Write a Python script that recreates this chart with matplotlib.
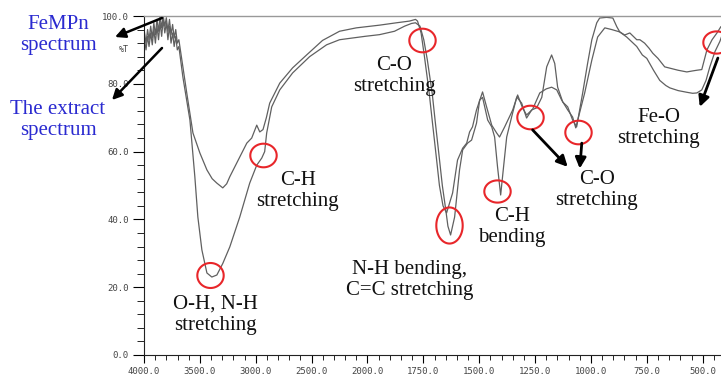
import numpy as np
import matplotlib
matplotlib.use("Agg")
import matplotlib.pyplot as plt
from matplotlib.path import Path

# FTIR spectra: wavenumber (cm-1) and transmittance (%T)
femppn_wn = [3995, 3982, 3968, 3955, 3940, 3926, 3912, 3898, 3884, 3870, 3856,
             3842, 3828, 3814, 3800, 3786, 3772, 3758, 3744, 3730, 3716, 3702,
             3688, 3661, 3616, 3562, 3500, 3437, 3390, 3348, 3295, 3260, 3232,
             3143, 3080, 3036, 2991, 2964, 2935, 2905, 2875, 2785, 2670, 2545,
             2402, 2250, 2100, 1946, 1870, 1812, 1785, 1776, 1760, 1745, 1725,
             1710, 1693, 1678, 1662, 1646, 1619, 1597, 1574, 1556, 1543, 1530,
             1512, 1485, 1467, 1444, 1422, 1409, 1386, 1350, 1328, 1306, 1288,
             1261, 1229, 1200, 1176, 1153, 1131, 1104, 1082, 1068, 1028, 996,
             970, 938, 907, 871, 840, 795, 770, 750, 720, 692, 665, 647, 610,
             571, 545, 526, 504, 485, 468, 445, 423, 415]
femppn_t = [95, 92, 96, 93, 97, 93.5, 98, 94.5, 99, 95.5, 100,
            96.5, 100, 97, 99.5, 95.5, 99, 94.5, 97.5, 93.5, 96, 92,
            93, 87, 77, 65.5, 59.6, 54.6, 52, 50.7, 49.3, 50.5, 52.6,
            58.4, 62.5, 64, 67.8, 65.8, 66.5, 70, 74.3, 80.2, 84.7, 88.5,
            92.8, 95.5, 96.5, 97.3, 98, 98.5, 99, 98.5, 95, 88, 78,
            69, 59, 50, 44, 41.9, 47.8, 57.5, 61, 62.5, 65.8, 67.3,
            72.3, 77.6, 73.2, 67.8, 65.5, 64.3, 67.3, 72.3, 76.7, 72.9, 70.8,
            72.5, 77.3, 78.5, 79, 78.2, 75.2, 72.3, 70.2, 67, 77.3, 87,
            93.8, 96.5, 96, 95.3, 93.8, 91, 88.5, 87.5, 84, 81, 79.5, 78.8, 78,
            77.5, 77.2, 77.3, 78.2, 81, 85, 89.5, 92.5, 94]

extract_wn = [3995, 3982, 3968, 3955, 3940, 3926, 3912, 3898, 3884, 3870, 3856,
              3842, 3828, 3814, 3800, 3786, 3772, 3758, 3744, 3730, 3716, 3702,
              3688, 3652, 3589, 3545, 3518, 3482, 3437, 3393, 3348, 3295, 3232,
              3143, 3054, 2991, 2946, 2920, 2902, 2857, 2785, 2670, 2518, 2366,
              2250, 2022, 1946, 1879, 1834, 1803, 1785, 1765, 1748, 1732, 1710,
              1697, 1680, 1665, 1650, 1640, 1628, 1610, 1588, 1574, 1552, 1534,
              1512, 1498, 1485, 1462, 1444, 1431, 1418, 1404, 1391, 1377, 1355,
              1332, 1310, 1288, 1265, 1243, 1220, 1198, 1176, 1162, 1149, 1126,
              1104, 1082, 1064, 1037, 1015, 996, 974, 961, 930, 902, 884, 871,
              849, 826, 795, 781, 760, 740, 723, 700, 670, 640, 610, 571, 545,
              526, 504, 481, 458, 436, 419]
extract_t = [93, 90, 94, 91, 95, 91.5, 96, 92, 97, 93, 98,
             94, 99, 95, 98, 93, 97, 92, 95, 91, 94, 90,
             91, 82, 69.3, 52.6, 40.7, 31, 24.2, 23, 23.6, 27, 31.9,
             40.7, 50.7, 56, 58.1, 60, 65.5, 73.2, 78.2, 83.2, 88, 91.5,
             93, 94, 94.5, 95.5, 97, 97.8, 98, 97, 93, 87, 77,
             69, 59, 50, 43, 38, 35.4, 40.7, 54.6, 60.5, 62.5, 63.4,
             68.4, 75.2, 76, 69.3, 67.3, 64.3, 55.5, 47.2, 55.5, 64.3, 70.2,
             76.1, 74.3, 69.9, 72.3, 72.9, 76, 85, 88.5, 86, 79, 74.6,
             73.2, 69.3, 67.3, 77.3, 86, 93, 98, 99.4, 99.6, 99.4, 96.8, 95.3,
             94.4, 95, 93, 93, 92, 90.5, 89, 87.5, 85, 84.5, 84, 83.5, 83.8,
             84, 84.2, 90, 93, 95, 96.8]

major_wn = [4000, 3500, 3000, 2500, 2000, 1750, 1500, 1250, 1000, 750, 500]
major_t = [0, 20, 40, 60, 80, 100]

# red circles: (wavenumber, %T) centre, size in points (w, h)
circle_pos = [(3411, 23.6), (2937, 59.0), (1754, 92.9), (1633, 38.3),
              (1422, 48.4), (1274, 70.2), (1059, 65.8), (441, 92.3)]
circle_size = [(19, 18), (19, 17), (19, 17), (19, 26),
               (19, 16), (19, 17), (19, 17), (19, 16)]

labels = ["O-H, N-H\nstretching", "C-H\nstretching", "C-O\nstretching",
          "N-H bending,\nC=C stretching", "C-H\nbending", "C-O\nstretching",
          "Fe-O\nstretching"]
label_pos = [(3357, 11.8), (2625, 48.4), (1879, 82.3), (1812, 22.1),
             (1355, 37.8), (974, 48.7), (696, 67.0)]

# arrows from circles to the text, (tail, head) in data coords
arrows = [((1261, 66.4), (1104, 55.5)),
          ((1041, 62.5), (1050, 55.0)),
          ((432, 87.6), (513, 73.2))]


def fwd(wn):
    wn = np.asarray(wn, dtype=float)
    return np.where(wn <= 2000, wn / 250.0, 8 + (wn - 2000) / 500.0)


def inv(u):
    u = np.asarray(u, dtype=float)
    return np.where(u <= 8, u * 250.0, 2000 + (u - 8) * 500.0)


def ellipse_marker(w, h):
    th = np.linspace(0, 2 * np.pi, 73)
    verts = np.column_stack([w * np.cos(th), h * np.sin(th)])
    return Path(verts, closed=True)


serif = "Liberation Serif"
mono = "DejaVu Sans Mono"

fig = plt.figure(figsize=(7.21, 3.78), dpi=100)
ax = fig.add_axes([144 / 721, 1 - 355 / 378, 1 - 144 / 721, (355 - 16) / 378])
ax.set_xscale("function", functions=(fwd, inv))

ax.plot(femppn_wn, femppn_t, color="#606060", lw=0.9)
ax.plot(extract_wn, extract_t, color="#606060", lw=0.9)

ax.set_xlim(4000, 418)
ax.set_ylim(0, 100)

ax.set_xticks(major_wn)
ax.set_xticklabels(["%.1f" % v for v in major_wn])
minor_x = [v for v in list(range(450, 2000, 50)) + list(range(2000, 4000, 100))
           if v not in major_wn]
ax.set_xticks(minor_x, minor=True)
ax.set_yticks(major_t)
ax.set_yticklabels(["%.1f" % v for v in major_t])
ax.set_yticks(np.arange(0, 101, 4), minor=True)

for lab in ax.get_xticklabels() + ax.get_yticklabels():
    lab.set_fontfamily(mono)
    lab.set_fontsize(6.5)
    lab.set_color("#444444")
ax.tick_params(axis="x", which="major", direction="out", length=6, width=0.8, pad=3)
ax.tick_params(axis="x", which="minor", direction="out", length=3.5, width=0.6)
ax.tick_params(axis="y", which="major", direction="out", length=8, width=0.8, pad=3)
ax.tick_params(axis="y", which="minor", direction="out", length=5, width=0.6)

ax.spines.right.set_visible(False)
ax.spines.top.set_color("#999999")
ax.spines.top.set_linewidth(1.0)
ax.spines.left.set_color("#222222")
ax.spines.bottom.set_color("#222222")

fig.text(124 / 721, 1 - 50 / 378, "%T", fontfamily=mono, fontsize=6,
         color="#444444", ha="center", va="center")

for (wn, t), (w, h) in zip(circle_pos, circle_size):
    ax.plot([wn], [t], marker=ellipse_marker(w, h), markersize=max(w, h),
            mfc="none", mec="#e8262a", mew=1.5, clip_on=False)

for txt, (wn, t) in zip(labels, label_pos):
    ax.text(wn, t, txt, fontfamily=serif, fontsize=15, color="#111111",
            ha="center", va="center", linespacing=1.15)

for tail, head in arrows:
    ax.annotate("", xy=head, xytext=tail,
                arrowprops=dict(arrowstyle="-|>", color="black", lw=2,
                                mutation_scale=16, shrinkA=0, shrinkB=0))

# blue legend-like labels on the left
fig.text(58 / 721, 1 - 35 / 378, "FeMPn\nspectrum", fontfamily=serif,
         fontsize=15, color="#2a2ad0", ha="center", va="center", linespacing=1.15)
fig.text(58 / 721, 1 - 120 / 378, "The extract\nspectrum", fontfamily=serif,
         fontsize=15, color="#2a2ad0", ha="center", va="center", linespacing=1.15)
ax.annotate("", xy=(115 / 721, 1 - 37 / 378), xytext=(162 / 721, 1 - 18 / 378),
            xycoords="figure fraction", textcoords="figure fraction",
            arrowprops=dict(arrowstyle="-|>", color="black", lw=1.8,
                            mutation_scale=15, shrinkA=0, shrinkB=0))
ax.annotate("", xy=(112 / 721, 1 - 100 / 378), xytext=(162 / 721, 1 - 48 / 378),
            xycoords="figure fraction", textcoords="figure fraction",
            arrowprops=dict(arrowstyle="-|>", color="black", lw=1.8,
                            mutation_scale=15, shrinkA=0, shrinkB=0))

plt.savefig("out.png", dpi=100)
plt.close()
